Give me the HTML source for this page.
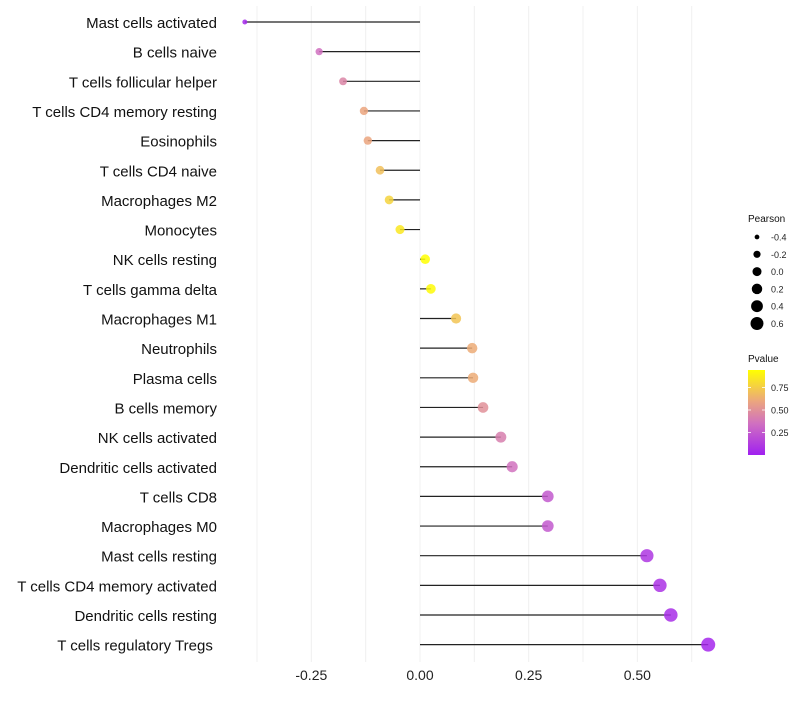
<!DOCTYPE html>
<html><head><meta charset="utf-8"><style>
body{margin:0;background:#fff;font-family:"Liberation Sans",sans-serif}
</style></head><body>
<svg id="c" width="800" height="700" xmlns="http://www.w3.org/2000/svg">
<defs><linearGradient id="pg" x1="0" y1="1" x2="0" y2="0">
<stop offset="0" stop-color="#A020F0"/><stop offset="0.37" stop-color="#D070C0"/><stop offset="0.63" stop-color="#EBA57F"/><stop offset="1" stop-color="#FFFF00"/>
</linearGradient></defs>
</svg>
<script>
const categories=["Mast cells activated","B cells naive","T cells follicular helper","T cells CD4 memory resting","Eosinophils","T cells CD4 naive","Macrophages M2","Monocytes","NK cells resting","T cells gamma delta","Macrophages M1","Neutrophils","Plasma cells","B cells memory","NK cells activated","Dendritic cells activated","T cells CD8","Macrophages M0","Mast cells resting","T cells CD4 memory activated","Dendritic cells resting","T cells regulatory  Tregs\u00a0"];
const pearson=[-0.403,-0.232,-0.177,-0.129,-0.120,-0.092,-0.071,-0.046,0.012,0.025,0.083,0.120,0.122,0.145,0.186,0.212,0.294,0.294,0.522,0.552,0.577,0.663];
const pvalue=[0.04,0.35,0.45,0.6,0.6,0.7,0.78,0.86,0.97,0.93,0.72,0.62,0.62,0.5,0.42,0.36,0.25,0.25,0.1,0.08,0.06,0.03];
const xTicks=[-0.25,0,0.25,0.5];
const xTickLabels=["-0.25","0.00","0.25","0.50"];
const sizeLegend=[-0.4,-0.2,0.0,0.2,0.4,0.6];
const sizeLegendLabels=["-0.4","-0.2","0.0","0.2","0.4","0.6"];
const pLegend=[0.25,0.5,0.75];
const pLegendLabels=["0.25","0.50","0.75"];

const svg=document.getElementById('c');
const NS="http://www.w3.org/2000/svg";
const xs=v=>420+v*434.7;
const ys=i=>22+i*29.65;
const rs=v=>Math.sqrt(Math.max(4,22.4+40.3*v));
function mk(t,a){const e=document.createElementNS(NS,t);for(const k in a)e.setAttribute(k,a[k]);svg.appendChild(e);return e;}
const stops=[[0,[160,32,240]],[0.37,[208,112,192]],[0.63,[235,165,127]],[1,[255,255,0]]];
function col(p){p=Math.max(0,Math.min(1,p/0.95));for(let i=1;i<stops.length;i++){if(p<=stops[i][0]){const a=stops[i-1],b=stops[i];const t=(p-a[0])/(b[0]-a[0]);return 'rgb('+a[1].map((c,j)=>Math.round(c+(b[1][j]-c)*t)).join(',')+')';}}return 'rgb(255,255,0)';}
for(let g=-0.375;g<=0.63;g+=0.125){
 const l=mk('line',{x1:xs(g),x2:xs(g),y1:6,y2:662,stroke:'#f0f0f0','stroke-width':1});
 
 
}
xTicks.forEach((v,i)=>{
 const t=mk('text',{x:xs(v),y:680,'text-anchor':'middle','font-size':14,fill:'#222'});
 t.textContent=xTickLabels[i];
 
 
});
categories.forEach((c,i)=>{
 const y=ys(i);
 const t=mk('text',{x:217,y:y+6,'text-anchor':'end','font-size':15,fill:'#111'});
 t.setAttribute('xml:space','preserve');
 t.textContent=c;
 
 
 const l=mk('line',{x1:xs(0),x2:xs(pearson[i]),y1:y,y2:y,stroke:'#222','stroke-width':1.2});
 
 
 const d=mk('circle',{cx:xs(pearson[i]),cy:y,r:rs(pearson[i]),fill:col(pvalue[i]),'fill-opacity':0.85});
 
 
});
let t=mk('text',{x:748,y:222,'font-size':10,fill:'#111'});t.textContent='Pearson';


sizeLegend.forEach((v,i)=>{
 const y=237+i*17.3;
 const c=mk('circle',{cx:757,cy:y,r:rs(v)*0.95,fill:'#000'});
 
 
 const tt=mk('text',{x:771,y:y+3.5,'font-size':9,fill:'#222'});tt.textContent=sizeLegendLabels[i];
 
 
});
t=mk('text',{x:748,y:362,'font-size':10,fill:'#111'});t.textContent='Pvalue';


const bar=mk('rect',{x:748,y:370,width:17,height:85,fill:'url(#pg)'});


pLegend.forEach((v,i)=>{
 const y=455-v*90;
 mk('line',{x1:748,x2:751,y1:y,y2:y,stroke:'#fff','stroke-width':0.8});
 mk('line',{x1:762,x2:765,y1:y,y2:y,stroke:'#fff','stroke-width':0.8});
 const tt=mk('text',{x:771,y:y+3.5,'font-size':9,fill:'#222'});tt.textContent=pLegendLabels[i];
 
 
});
</script>
</body></html>
